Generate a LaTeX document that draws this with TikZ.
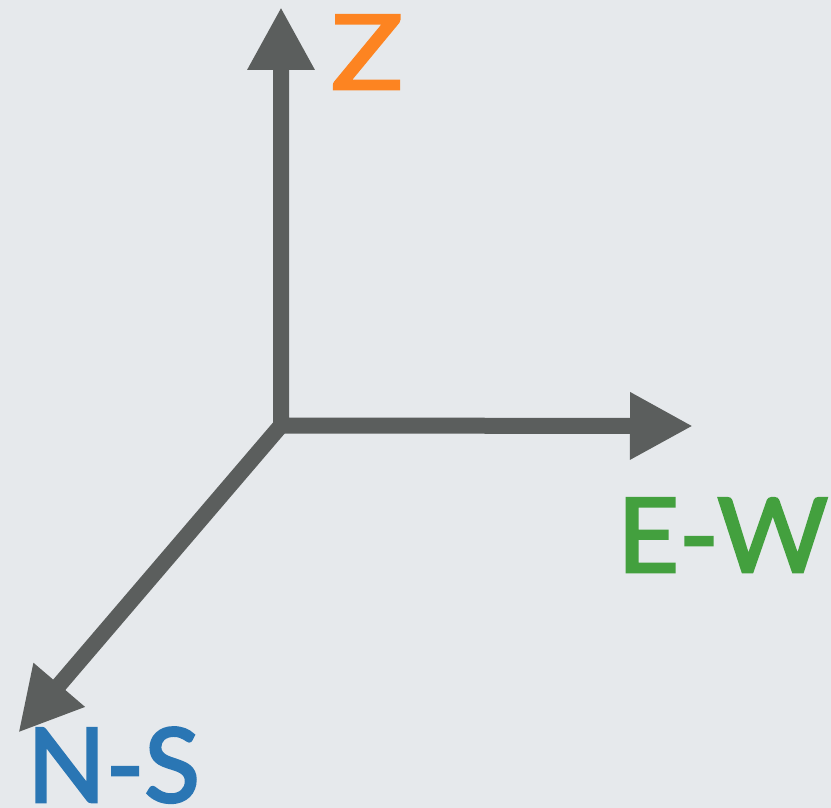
\documentclass[tikz,border=0pt]{standalone}
\usepackage{fontspec}
\setmainfont{Lato}
\newfontfamily\lblfont{Lato}[RawFeature={embolden=2.5}]
\usetikzlibrary{arrows.meta}
\definecolor{bg}{HTML}{E6E9EC}
\definecolor{axis}{HTML}{5B5E5D}
\definecolor{zcol}{HTML}{FD8421}
\definecolor{ewcol}{HTML}{43A03E}
\definecolor{nscol}{HTML}{2A76B4}
\tikzset{
  axisline/.style={draw=axis, line width=16pt, line join=miter,
    -{Triangle[length=63pt,width=63pt]}},
  axislabel/.style={anchor=base west, inner sep=0pt, font=\lblfont\fontsize{103}{103}\selectfont}
}
\begin{document}
\begin{tikzpicture}[x=1pt,y=-1pt]
\fill[bg] (0,0) rectangle (831,808);
\useasboundingbox (0,0) rectangle (831,808);
\coordinate (O) at (281,425.5);
\coordinate (zt) at (281,7);
\coordinate (ewt) at (693,426);
\coordinate (nst) at (18.3,732.7);
\draw[axisline] (O) -- (nst);
\draw[draw=axis, line width=16pt, line join=miter,
  {Triangle[length=63pt,width=63pt]}-{Triangle[length=63pt,width=63pt]}] (zt) -- (O) -- (ewt);
\node[axislabel, text=zcol] (zl) at (331,89) {\scalebox{1.16}[1]{Z}};
\node[axislabel, text=ewcol] (ewl) at (617,572) {\scalebox{1.04}[1]{E-W}};
\node[axislabel, text=nscol] (nsl) at (27,802) {N-S};
\end{tikzpicture}
\end{document}
